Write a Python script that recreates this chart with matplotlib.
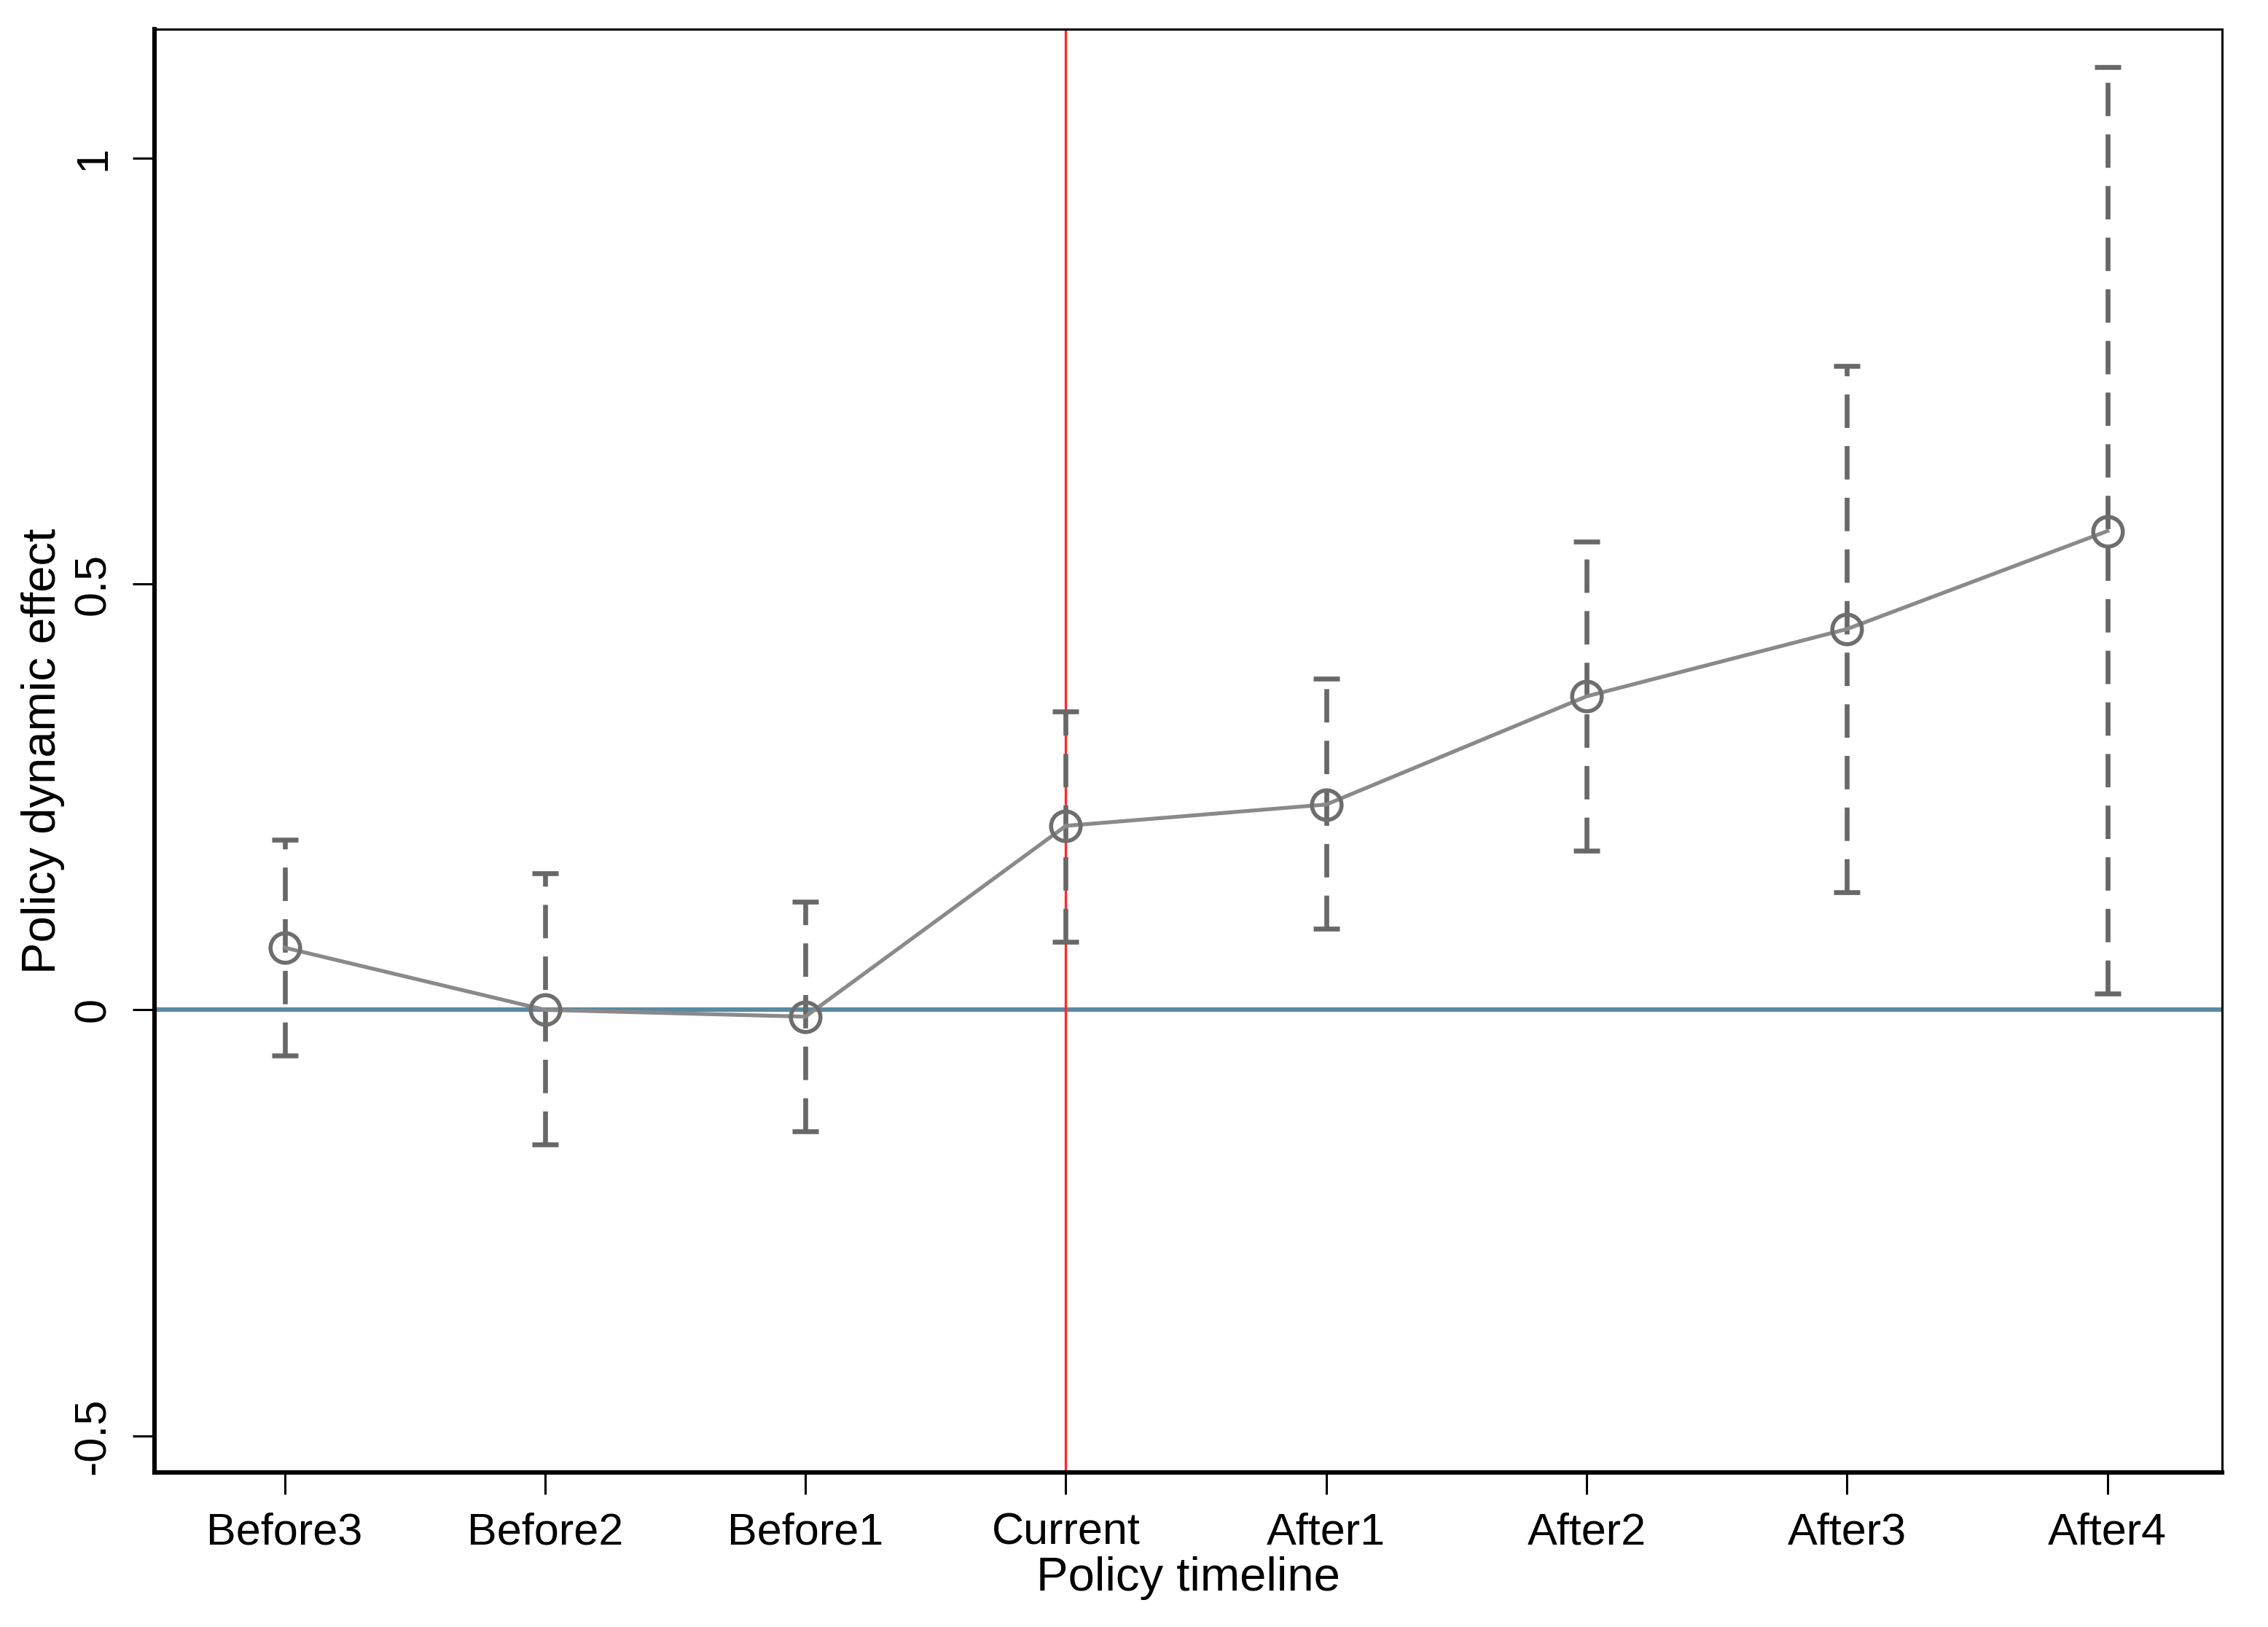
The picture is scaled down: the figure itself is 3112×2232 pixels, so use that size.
#!/usr/bin/env python3
# Event-study plot: policy dynamic effect with 95% CI bars

import matplotlib
matplotlib.use("Agg")
import numpy as np
import matplotlib.pyplot as plt

# Data
periods = ["Before3", "Before2", "Before1", "Current", "After1", "After2", "After3", "After4"]
coef = [0.073, 0.000, -0.008, 0.216, 0.241, 0.368, 0.447, 0.562]
ci_low = [-0.054, -0.158, -0.143, 0.080, 0.095, 0.187, 0.138, 0.019]
ci_high = [0.200, 0.160, 0.127, 0.350, 0.389, 0.550, 0.756, 1.107]
yticks = [-0.5, 0, 0.5, 1]
ytick_labels = ["-0.5", "0", "0.5", "1"]
event_period = "Current"

plt.rcParams["font.family"] = ["Liberation Sans", "DejaVu Sans"]
FS = 22       # tick labels
FS_LAB = 23.5  # axis titles

fig = plt.figure(figsize=(15.56, 11.16), dpi=200)
ax = fig.add_axes([0.0681, 0.095, 0.9116, 0.887])

x = np.arange(1, len(periods) + 1)
coef = np.array(coef)
lo = np.array(ci_low)
hi = np.array(ci_high)

# reference lines
ax.axhline(0, color="#5a8aa2", lw=2.2, zorder=1)
ax.axvline(x[periods.index(event_period)], color="#ff2a2a", lw=1.2, zorder=1)

# confidence intervals (dashed, capped)
err_lw = 2.4
_, caps, bars = ax.errorbar(x, coef, yerr=[coef - lo, hi - coef], fmt="none",
                            ecolor="#686868", elinewidth=err_lw, capsize=6.5,
                            capthick=err_lw, zorder=2)
bars[0].set_linestyle((0, (16.5 / err_lw, 9 / err_lw)))

# point estimates
ax.plot(x, coef, color="#8a8a8a", lw=1.9, zorder=3)
ax.plot(x, coef, "o", ms=14.6, mfc="none", mec="#6e6e6e", mew=2.0, zorder=4)

ax.set_xlim(0.5, 8.44)
ax.set_ylim(-0.543, 1.151)
ax.set_xticks(x)
ax.set_xticklabels(periods, fontsize=FS)
ax.set_yticks(yticks)
ax.set_yticklabels(ytick_labels, fontsize=FS, rotation=90, va="center")
ax.tick_params(axis="both", direction="out", length=10.8, width=1.1, pad=9)

ax.set_xlabel("Policy timeline", fontsize=FS_LAB, labelpad=1)
ax.set_ylabel("Policy dynamic effect", fontsize=FS_LAB, labelpad=4)

for side in ["left", "bottom"]:
    ax.spines[side].set_linewidth(2.2)
for side in ["top", "right"]:
    ax.spines[side].set_linewidth(1.1)

fig.savefig("out.png", dpi=200)
